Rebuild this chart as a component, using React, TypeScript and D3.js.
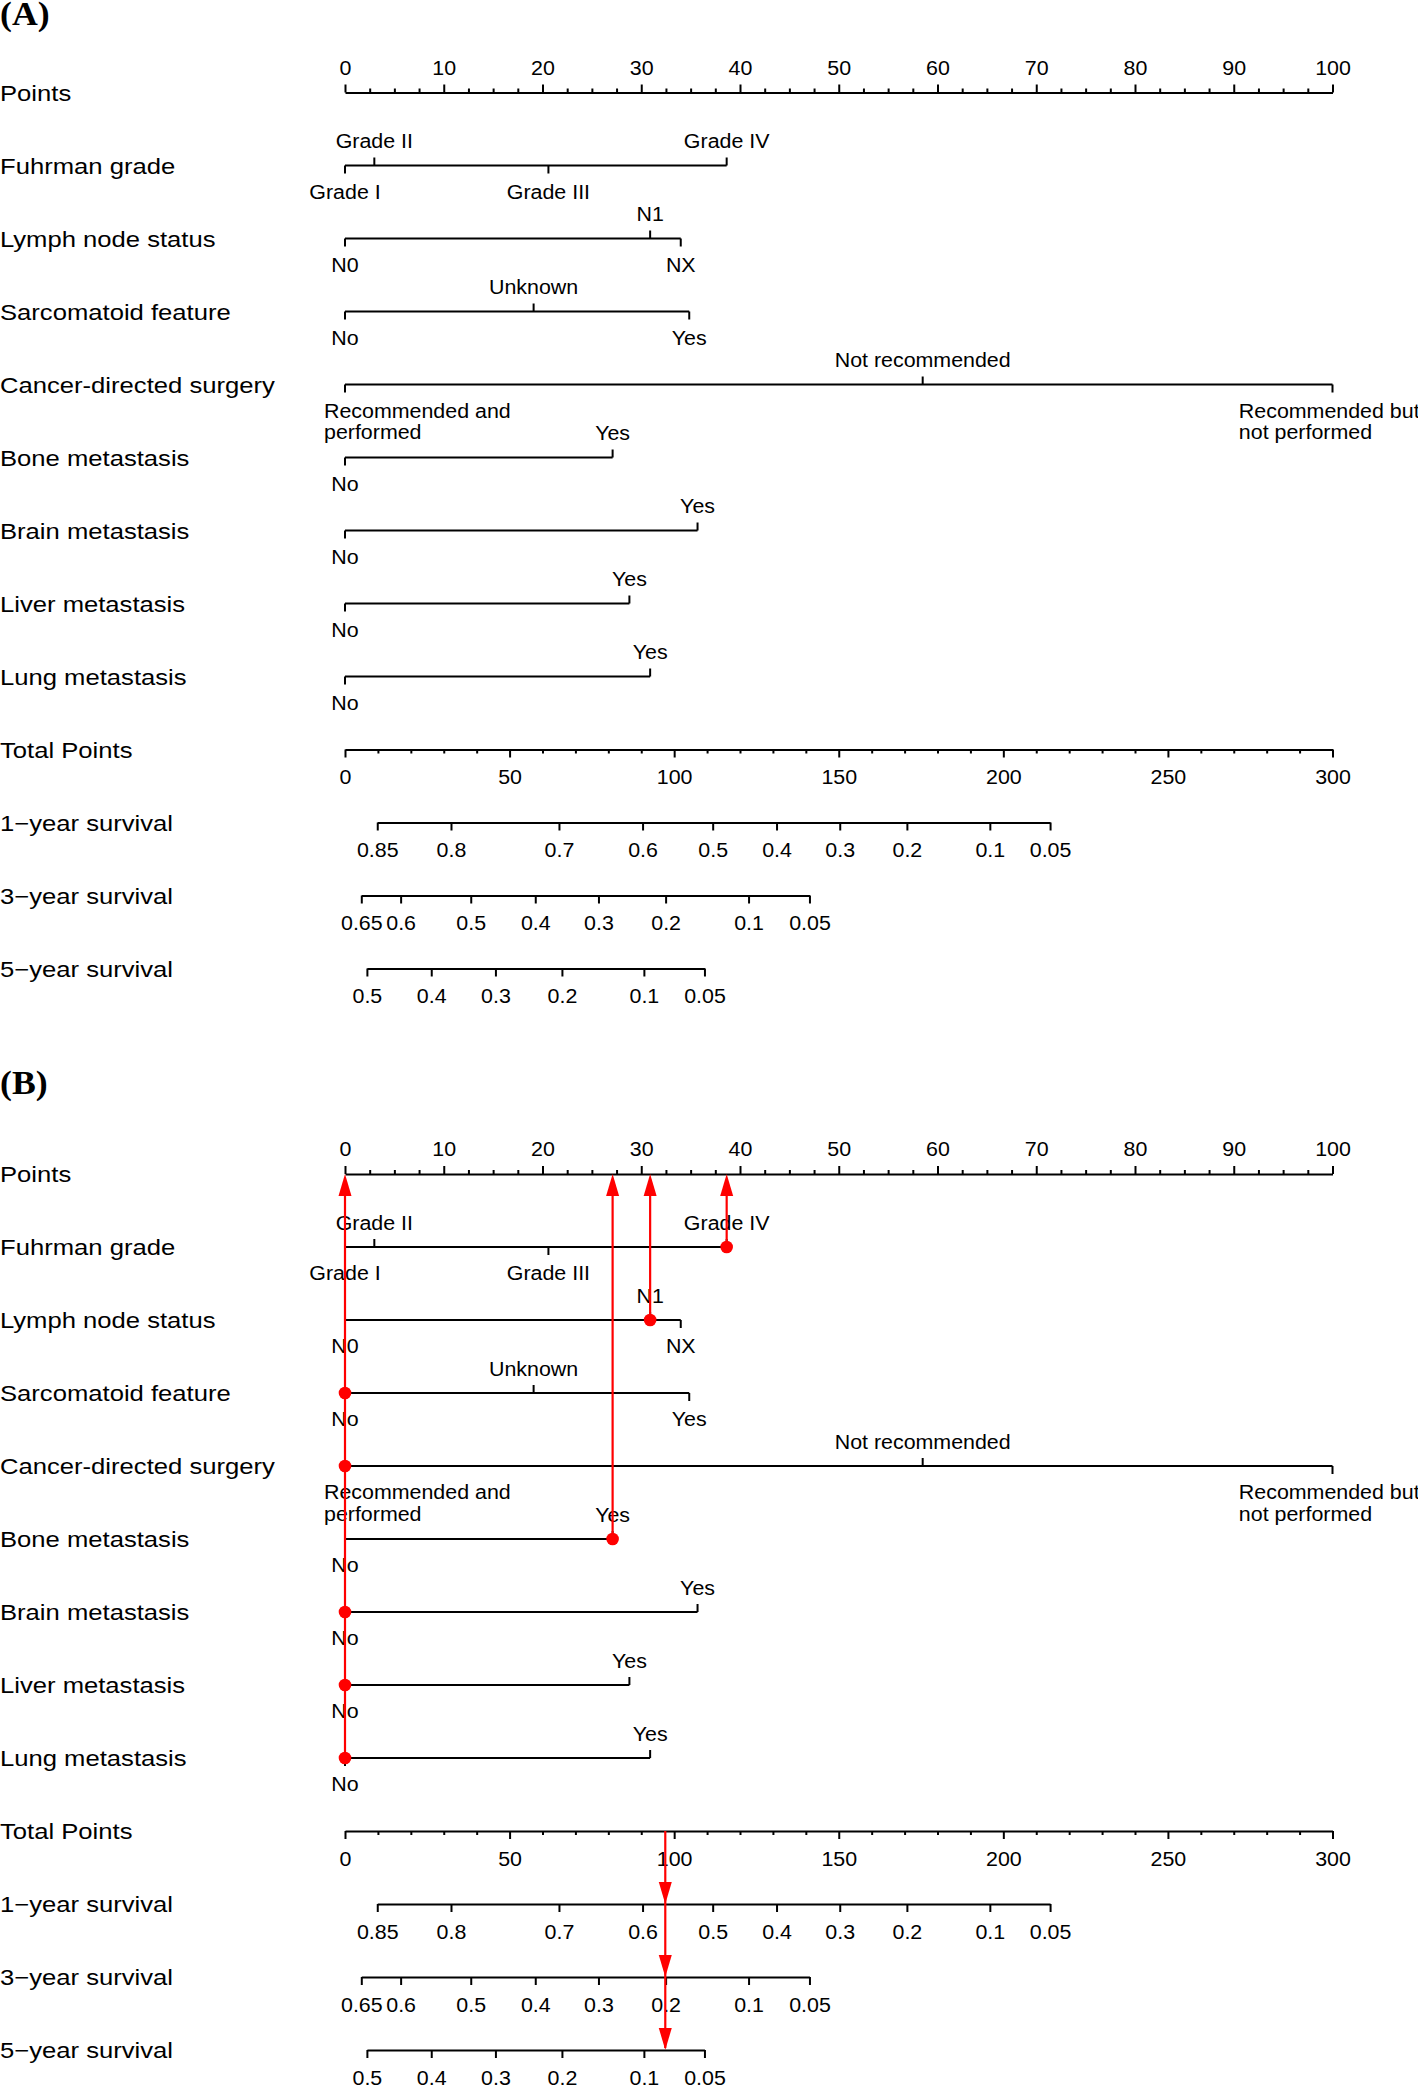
import React, { useEffect, useRef } from "react";
import * as d3 from "d3";

// row titles, top to bottom
const rowNames = [
  "Points",
  "Fuhrman grade",
  "Lymph node status",
  "Sarcomatoid feature",
  "Cancer-directed surgery",
  "Bone metastasis",
  "Brain metastasis",
  "Liver metastasis",
  "Lung metastasis",
  "Total Points",
  "1\u2212year survival",
  "3\u2212year survival",
  "5\u2212year survival",
];

const pointTicks = [0, 10, 20, 30, 40, 50, 60, 70, 80, 90, 100];
const totalTicks = [0, 50, 100, 150, 200, 250, 300];

// predictor levels (ordered by points) and the points each level is worth
const fuhrmanLevels = ["Grade I", "Grade II", "Grade III", "Grade IV"];
const fuhrmanPoints = [0, 2.97, 20.6, 38.65];
const lymphLevels = ["N0", "N1", "NX"];
const lymphPoints = [0, 30.9, 34.0];
const sarcomatoidLevels = ["No", "Unknown", "Yes"];
const sarcomatoidPoints = [0, 19.1, 34.86];
const surgeryLevels = ["Recommended and\nperformed", "Not recommended", "Recommended but\nnot performed"];
const surgeryPoints = [0, 58.5, 100];
const boneLevels = ["No", "Yes"];
const bonePoints = [0, 27.1];
const brainLevels = ["No", "Yes"];
const brainPoints = [0, 35.7];
const liverLevels = ["No", "Yes"];
const liverPoints = [0, 28.8];
const lungLevels = ["No", "Yes"];
const lungPoints = [0, 30.9];

// survival scales: probability labels and the total points where they sit
const surv1Labels = ["0.85", "0.8", "0.7", "0.6", "0.5", "0.4", "0.3", "0.2", "0.1", "0.05"];
const surv1At = [9.8, 32.2, 65.0, 90.4, 111.7, 131.1, 150.3, 170.7, 195.9, 214.2];
const surv3Labels = ["0.65", "0.6", "0.5", "0.4", "0.3", "0.2", "0.1", "0.05"];
const surv3At = [4.95, 16.9, 38.2, 57.8, 77.0, 97.4, 122.6, 141.1];
const surv5Labels = ["0.5", "0.4", "0.3", "0.2", "0.1", "0.05"];
const surv5At = [6.65, 26.2, 45.7, 65.9, 90.8, 109.2];

// example patient shown in panel B
const patientLevels = ["Grade IV", "N1", "No", "Recommended and\nperformed", "Yes", "No", "No", "No"];
const patientTotal = 97.3;

const factors = [
  { levels: fuhrmanLevels, pts: fuhrmanPoints },
  { levels: lymphLevels, pts: lymphPoints },
  { levels: sarcomatoidLevels, pts: sarcomatoidPoints },
  { levels: surgeryLevels, pts: surgeryPoints },
  { levels: boneLevels, pts: bonePoints },
  { levels: brainLevels, pts: brainPoints },
  { levels: liverLevels, pts: liverPoints },
  { levels: lungLevels, pts: lungPoints },
];
const survAxes = [
  { labels: surv1Labels, at: surv1At },
  { labels: surv3Labels, at: surv3At },
  { labels: surv5Labels, at: surv5At },
];

const W = 1418,
  H = 2085;
const SANS = "'Liberation Sans', Arial, Helvetica, sans-serif";
const SERIF = "'Liberation Serif', 'Times New Roman', serif";
const RED = "#ff0000";

const xPts = d3.scaleLinear().domain([0, 100]).range([345, 1332.5]);
const xTot = d3.scaleLinear().domain([0, 300]).range([345, 1332.5]);
const rowY = (i: number) => 92.5 + i * 73;

function txt(g: any, s: string, x: number, y: number, size: number, sx: number, anchor: string) {
  return g
    .append("text")
    .attr("transform", `translate(${x},${y}) scale(${sx},1)`)
    .attr("text-anchor", anchor)
    .attr("font-size", size)
    .attr("font-family", SANS)
    .attr("fill", "#000")
    .text(s);
}

function styleAxis(a: any) {
  a.attr("font-size", 20).attr("font-family", SANS);
  a.select(".domain").attr("stroke-width", 2);
  a.selectAll(".tick line").attr("stroke-width", 2);
  a.selectAll(".tick text").attr("transform", "scale(1.07,1)").attr("fill", "#000");
}

function drawPanel(g: any) {
  // row titles
  rowNames.forEach((name, i) => {
    txt(g, name, 0, rowY(i) + 8, 22, 1.165, "start");
  });

  // Points axis (ticks up)
  const pa = g.append("g").attr("transform", `translate(0,${rowY(0)})`);
  pa.call(d3.axisTop(xPts).tickValues(pointTicks).tickSize(8).tickSizeOuter(0).tickPadding(10));
  styleAxis(pa);
  const pm = g.append("g").attr("transform", `translate(0,${rowY(0)})`);
  pm.call(
    d3.axisTop(xPts)
      .tickValues(d3.range(0, 100.01, 2.5).filter((v) => v % 10 !== 0))
      .tickSize(4)
      .tickFormat(() => "")
  );
  pm.select(".domain").remove();
  pm.selectAll("line").attr("stroke-width", 2);

  // categorical predictors
  factors.forEach((f, k) => {
    const y = rowY(k + 1);
    const xs = f.pts.map((p) => xPts(p));
    g.append("line")
      .attr("x1", d3.min(xs))
      .attr("x2", d3.max(xs))
      .attr("y1", y)
      .attr("y2", y)
      .attr("stroke", "#000")
      .attr("stroke-width", 2);
    f.levels.forEach((lab, i) => {
      const below = i % 2 === 0;
      g.append("line")
        .attr("x1", xs[i])
        .attr("x2", xs[i])
        .attr("y1", y)
        .attr("y2", below ? y + 8 : y - 8)
        .attr("stroke", "#000")
        .attr("stroke-width", 2);
      const ly = below ? y + 33 : y - 17.5;
      const lines = lab.split("\n");
      if (lines.length === 1) {
        txt(g, lab, xs[i], ly, 20, 1.07, "middle");
      } else {
        const t = g
          .append("text")
          .attr("text-anchor", "start")
          .attr("font-size", 20)
          .attr("font-family", SANS)
          .attr("fill", "#000");
        lines.forEach((s, j) => {
          t.append("tspan").attr("x", 0).attr("y", j * 22).text(s);
        });
        const w = (t.node() as SVGTextElement).getBBox().width * 1.07;
        const left = Math.max(xs[i] - w / 2 - 3, xPts(0) - 21);
        t.attr("transform", `translate(${left},${ly}) scale(1.07,1)`);
      }
    });
  });

  // Total Points axis (ticks down)
  const ta = g.append("g").attr("transform", `translate(0,${rowY(9)})`);
  ta.call(d3.axisBottom(xTot).tickValues(totalTicks).tickSize(8).tickSizeOuter(0).tickPadding(12.5));
  styleAxis(ta);
  const tm = g.append("g").attr("transform", `translate(0,${rowY(9)})`);
  tm.call(
    d3.axisBottom(xTot)
      .tickValues(d3.range(0, 300.01, 10).filter((v) => v % 50 !== 0))
      .tickSize(4)
      .tickFormat(() => "")
  );
  tm.select(".domain").remove();
  tm.selectAll("line").attr("stroke-width", 2);

  // survival probability axes
  survAxes.forEach((s, k) => {
    const lo = s.at[0],
      hi = s.at[s.at.length - 1];
    const sc = d3.scaleLinear().domain([lo, hi]).range([xTot(lo), xTot(hi)]);
    const sa = g.append("g").attr("transform", `translate(0,${rowY(10 + k)})`);
    sa.call(
      d3.axisBottom(sc)
        .tickValues(s.at)
        .tickFormat((d: any, i: number) => s.labels[i])
        .tickSize(8)
        .tickSizeOuter(0)
        .tickPadding(12.5)
    );
    styleAxis(sa);
  });
}

function drawPatient(g: any) {
  const stroke = 2.2,
    headLen = 22,
    headW = 6.5;
  const axisY = rowY(0);
  const chosen = factors.map((f, k) => ({
    p: f.pts[f.levels.indexOf(patientLevels[k])],
    y: rowY(k + 1),
  }));

  // vertical lines from each chosen level up to the Points axis
  const groups = d3.groups(chosen, (d) => d.p);
  groups.forEach(([p, rows]) => {
    const x = xPts(p);
    const yLow = d3.max(rows, (d) => d.y) as number;
    g.append("line")
      .attr("x1", x)
      .attr("x2", x)
      .attr("y1", yLow)
      .attr("y2", axisY + headLen - 2)
      .attr("stroke", RED)
      .attr("stroke-width", stroke);
    g.append("path")
      .attr("d", `M${x},${axisY}L${x - headW},${axisY + headLen}L${x + headW},${axisY + headLen}Z`)
      .attr("fill", RED);
  });
  chosen.forEach((d) => {
    g.append("circle").attr("cx", xPts(d.p)).attr("cy", d.y).attr("r", 6.3).attr("fill", RED);
  });

  // total points down to the survival scales
  const xt = xTot(patientTotal);
  g.append("line")
    .attr("x1", xt)
    .attr("x2", xt)
    .attr("y1", rowY(9))
    .attr("y2", rowY(12) - 2)
    .attr("stroke", RED)
    .attr("stroke-width", stroke);
  [10, 11, 12].forEach((r) => {
    const y = rowY(r);
    g.append("path")
      .attr("d", `M${xt},${y}L${xt - headW},${y - headLen}L${xt + headW},${y - headLen}Z`)
      .attr("fill", RED);
  });
}

export default function App() {
  const ref = useRef<SVGSVGElement>(null);

  useEffect(() => {
    const svg = d3.select(ref.current);
    svg.selectAll("*").remove();

    svg.append("rect").attr("width", W).attr("height", H).attr("fill", "#fff");

    const gA = svg.append("g");
    drawPanel(gA);

    const gB = svg.append("g").attr("transform", "translate(0,1081.5)");
    drawPanel(gB);
    drawPatient(gB);

    // panel letters
    [
      { s: "(A)", y: 25 },
      { s: "(B)", y: 1094 },
    ].forEach((p) => {
      svg
        .append("text")
        .attr("transform", `translate(0,${p.y}) scale(1.05,1)`)
        .attr("font-family", SERIF)
        .attr("font-weight", "bold")
        .attr("font-size", 34)
        .attr("fill", "#000")
        .text(p.s);
    });
  }, []);

  return (
    <svg
      ref={ref}
      width={W}
      height={H}
      style={{ position: "absolute", left: 0, top: 0, display: "block" }}
    />
  );
}
